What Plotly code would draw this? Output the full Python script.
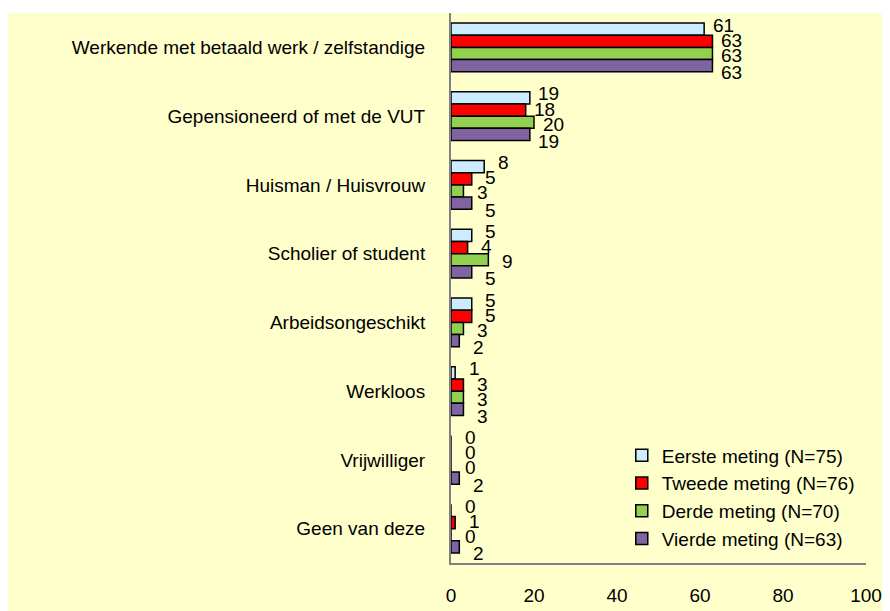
"""Grouped horizontal bar chart: situation of respondents across four measurements."""
import plotly.graph_objects as go

CATEGORIES = [
    "Werkende met betaald werk / zelfstandige",
    "Gepensioneerd of met de VUT",
    "Huisman / Huisvrouw",
    "Scholier of student",
    "Arbeidsongeschikt",
    "Werkloos",
    "Vrijwilliger",
    "Geen van deze",
]
SERIES_NAMES = [
    "Eerste meting (N=75)",
    "Tweede meting (N=76)",
    "Derde meting (N=70)",
    "Vierde meting (N=63)",
]
EERSTE = [61, 19, 8, 5, 5, 1, 0, 0]
TWEEDE = [63, 18, 5, 4, 5, 3, 0, 1]
DERDE = [63, 20, 3, 9, 3, 3, 0, 0]
VIERDE = [63, 19, 5, 5, 2, 3, 2, 2]
X_TICKS = [0, 20, 40, 60, 80, 100]

COLORS = ["#CCECFF", "#FF0000", "#92D050", "#8064A2"]
LABEL_YSHIFT = [4, 1, -2, -7]      # Excel-style labels drift downwards per series
BG = "#FFFFCC"
FONT = "Liberation Sans, Arial, sans-serif"
FS = 19

# page has an 8px body margin, so the figure is a bit smaller than the window
W, H = 882, 603
M_L, M_R, M_T, M_B = 443, 24, 5, 40
BARGAP = 0.29


def main():
    series = [EERSTE, TWEEDE, DERDE, VIERDE]
    fig = go.Figure()
    for name, values, color in zip(SERIES_NAMES, series, COLORS):
        fig.add_trace(go.Bar(
            x=values, y=CATEGORIES, name=name, orientation="h",
            marker=dict(color=color, line=dict(color="black", width=1.5)),
        ))

    # value labels next to each bar
    bar_w = (1 - BARGAP) / len(series)
    for i, values in enumerate(series):
        offset = (i - (len(series) - 1) / 2) * bar_w
        for j, v in enumerate(values):
            fig.add_annotation(
                x=v, y=j + offset, text=str(v), showarrow=False,
                xanchor="center", xshift=19, yshift=LABEL_YSHIFT[i],
                font=dict(size=FS, color="black", family=FONT),
            )

    # thin white band above the yellow panel
    pw = W - M_L - M_R
    ph = H - M_T - M_B
    fig.add_shape(type="rect", xref="paper", yref="paper", layer="below",
                  x0=-M_L / pw, x1=1 + M_R / pw, y0=1, y1=1 + M_T / ph,
                  fillcolor="white", line_width=0)

    fig.update_layout(
        width=W, height=H,
        margin=dict(l=M_L, r=M_R, t=M_T, b=M_B),
        paper_bgcolor=BG, plot_bgcolor=BG,
        barmode="group", bargap=BARGAP, bargroupgap=0,
        font=dict(family=FONT, size=FS, color="black"),
        showlegend=True,
        legend=dict(
            x=0.985, y=0.01, xanchor="right", yanchor="bottom",
            bgcolor="rgba(0,0,0,0)", font=dict(size=FS, color="black"),
            tracegroupgap=0, itemwidth=30,
        ),
        xaxis=dict(
            range=[0, 100], tickvals=X_TICKS, showgrid=False, zeroline=False,
            showline=True, linecolor="#808080", linewidth=2,
            ticks="", ticklabelstandoff=14,
        ),
        yaxis=dict(
            autorange="reversed", showgrid=False, zeroline=False,
            showline=True, linecolor="#808080", linewidth=2,
            ticks="", ticklabelstandoff=20,
        ),
    )
    fig.write_html("out.html")


if __name__ == '__main__':
    main()
